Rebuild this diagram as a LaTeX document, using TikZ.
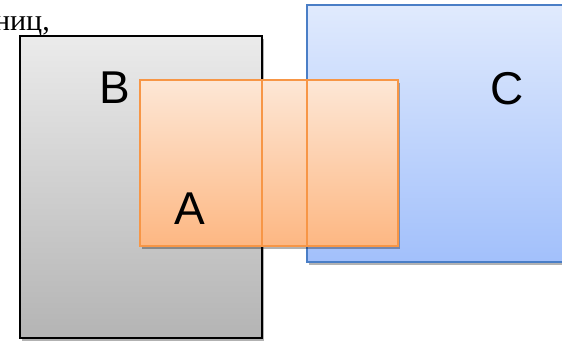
\documentclass[tikz,border=0pt]{standalone}
\usepackage{fontspec}
\setmainfont{Liberation Serif}
\setsansfont{Liberation Sans}
\usetikzlibrary{shadows}

\definecolor{grayTop}{HTML}{EBEBEB}
\definecolor{grayBot}{HTML}{B4B4B4}
\definecolor{blueTop}{HTML}{E0EAFD}
\definecolor{blueBot}{HTML}{A2C0FB}
\definecolor{blueLine}{HTML}{4A7EC6}
\definecolor{orangeTop}{HTML}{FDE7D6}
\definecolor{orangeBot}{HTML}{FDB782}
\definecolor{orangeLine}{HTML}{F79646}

\tikzset{
    setbox/.style={rectangle, inner sep=0pt, outer sep=0pt,
        drop shadow={shadow xshift=1.5pt, shadow yshift=-2.5pt, opacity=0.3, fill=black}},
    boxB/.style={setbox, draw=black, line width=1.6pt, top color=grayTop, bottom color=grayBot},
    boxC/.style={setbox, draw=blueLine, line width=1.3pt, top color=blueTop, bottom color=blueBot},
    boxA/.style={setbox, draw=orangeLine, line width=1.5pt, top color=orangeTop, bottom color=orangeBot},
    setname/.style={font=\sffamily\fontsize{46}{50}\selectfont, inner sep=0pt},
    lineA/.style={draw=orangeLine, line width=1.5pt}
}

\begin{document}
\begin{tikzpicture}[x=1pt, y=-1pt]
    \useasboundingbox (0,0) rectangle (562,340);
    \clip (0,0) rectangle (562,340);

    % cut-off text from the page above
    \node[anchor=base east, inner sep=0pt, font=\fontsize{30}{34}\selectfont] (textTop) at (50,30) {ниц,};

    % the three sets
    \node[boxB, minimum width=242pt, minimum height=302pt] (setB) at (141,187) {};
    \node[boxC, minimum width=268pt, minimum height=257pt] (setC) at (441,133.5) {};
    \node[boxA, minimum width=258pt, minimum height=166pt] (setA) at (269,163) {};

    % borders of B and C inside A
    \draw[lineA] (setB.east |- setA.north) -- (setB.east |- setA.south);
    \draw[lineA] (setC.west |- setA.north) -- (setC.west |- setA.south);

    % names
    \node[setname] (nameB) at (114.5,88) {B};
    \node[setname] (nameC) at (507.5,88.5) {C};
    \node[setname] (nameA) at (190,209) {A};
\end{tikzpicture}
\end{document}
